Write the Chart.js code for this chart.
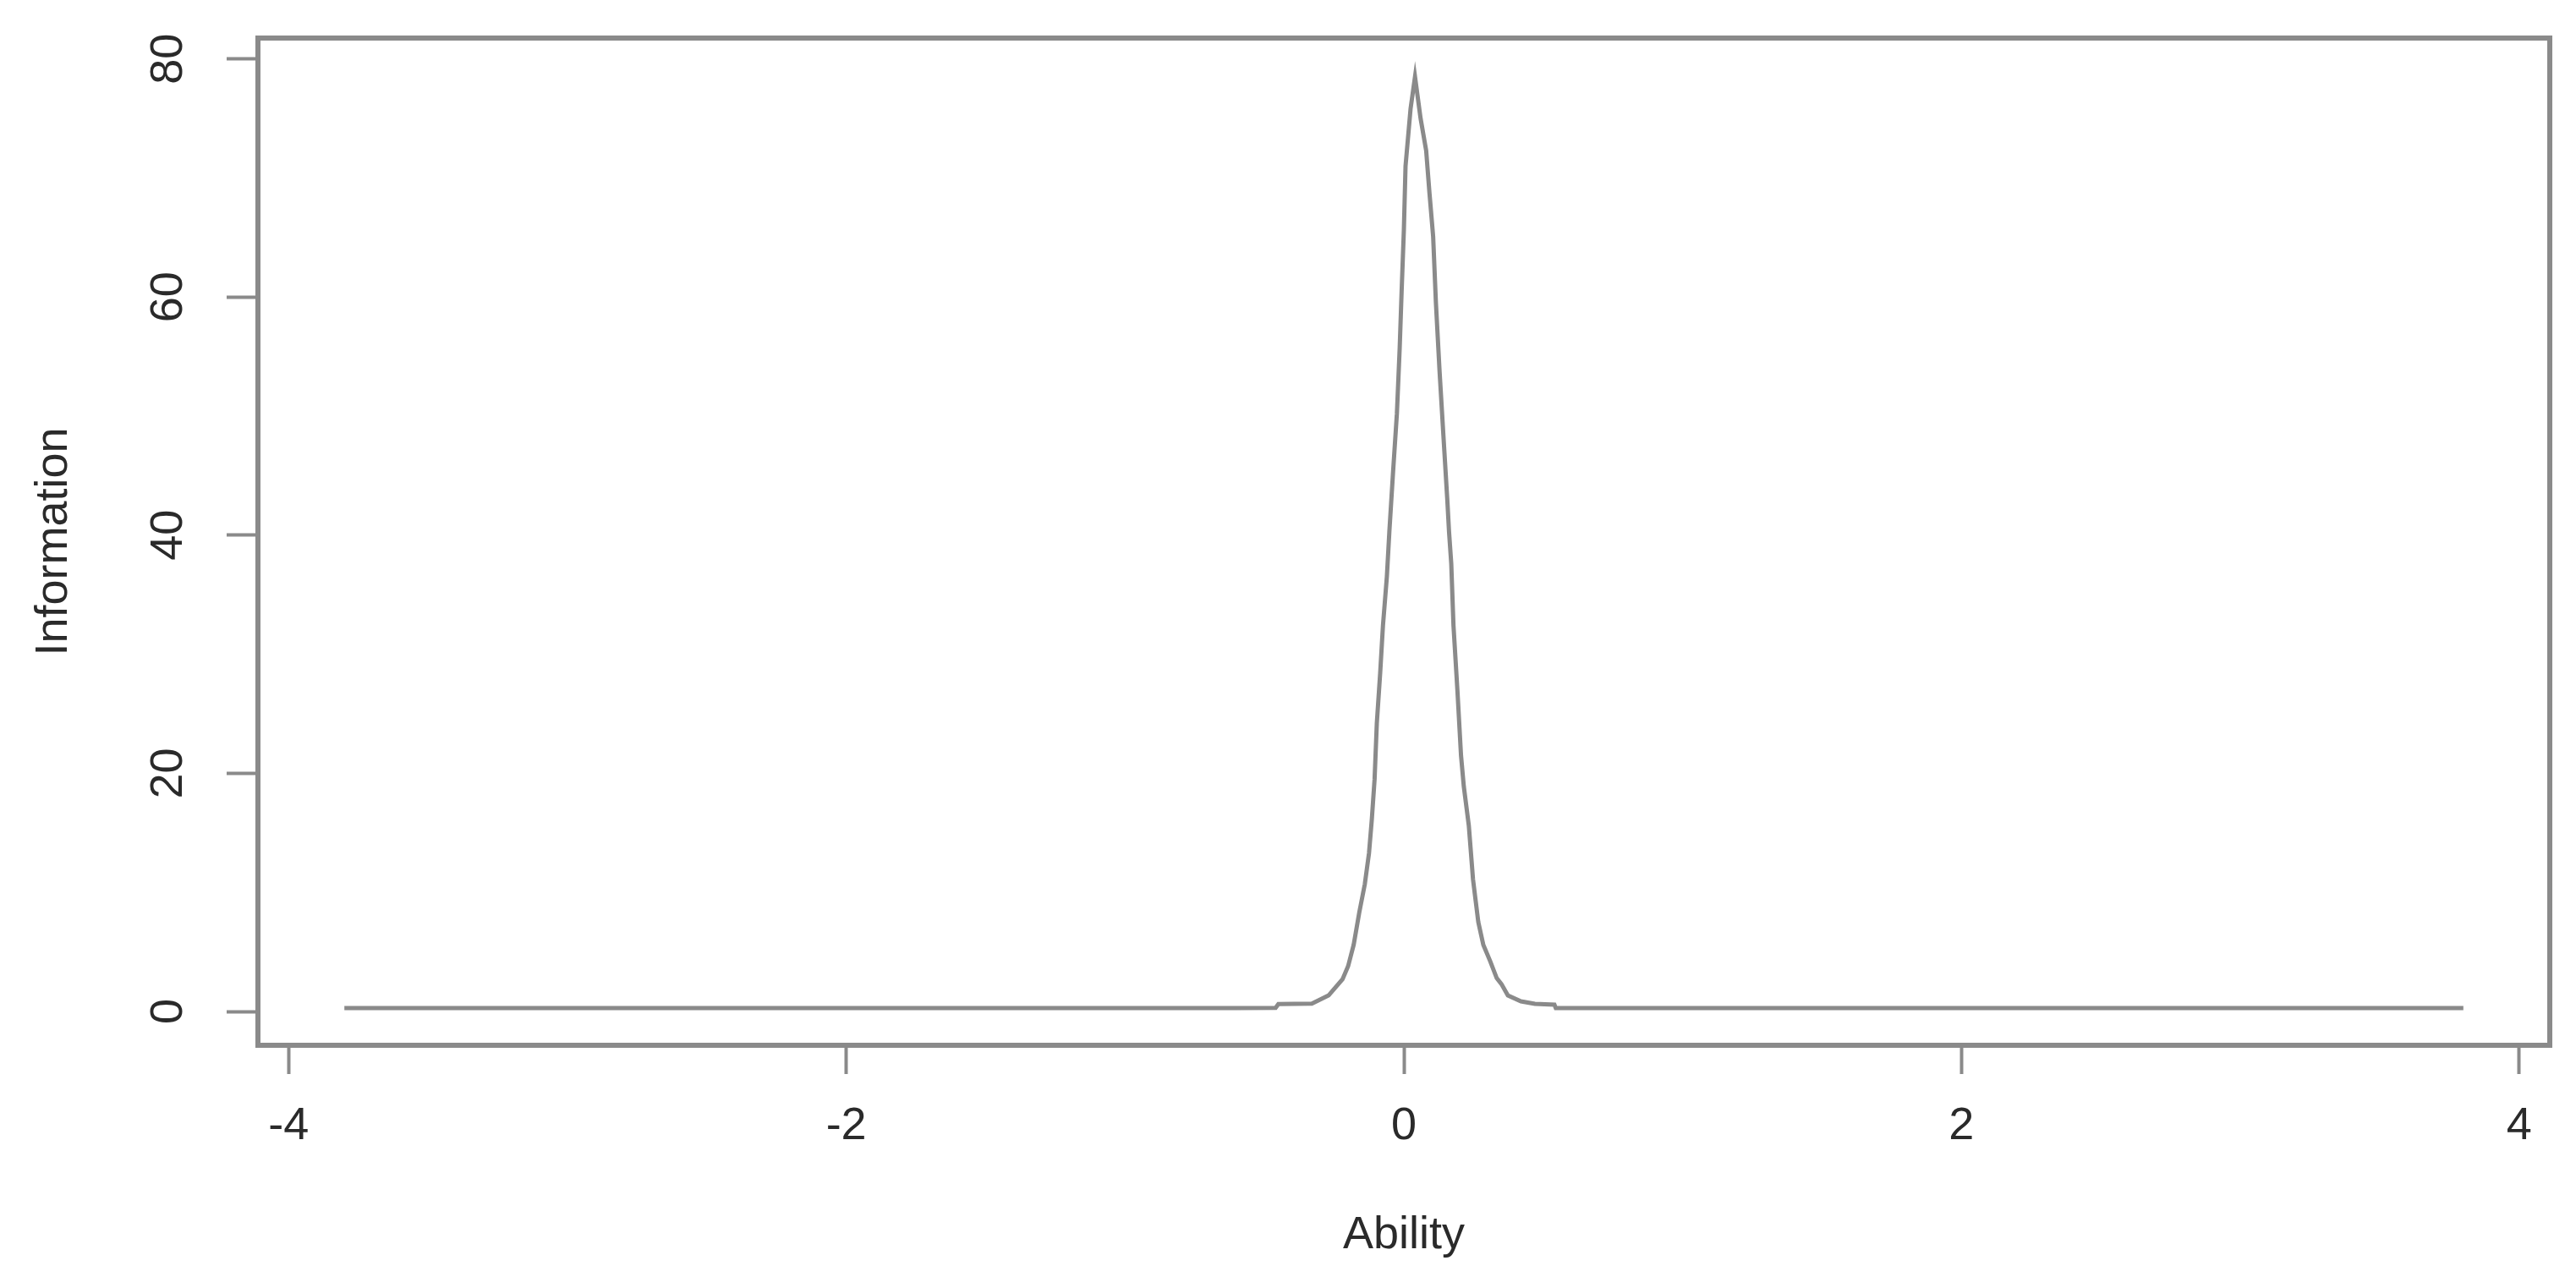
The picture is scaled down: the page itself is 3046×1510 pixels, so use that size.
<!DOCTYPE html>
<html>
<head>
<meta charset="utf-8">
<title>Information vs Ability</title>
<script src="https://cdn.jsdelivr.net/npm/chart.js@4/dist/chart.umd.min.js"></script>
<style>
  html, body { margin: 0; padding: 0; background: #fff; }
  #wrap { width: 3046px; height: 1510px; }
</style>
</head>
<body>
<div id="wrap"><canvas id="infoChart" width="3046" height="1510"></canvas></div>
<script>
// ability (theta) grid and test information
const ability = [
    -3.8, -0.6, -0.46, -0.45, -0.33, -0.27, -0.25, -0.22, -0.2, -0.18,
    -0.16, -0.14, -0.125, -0.115, -0.105, -0.097, -0.085, -0.075, -0.061, -0.052,
    -0.039, -0.025, -0.015, -0.008, 0.0, 0.006, 0.024, 0.04, 0.06, 0.08,
    0.092, 0.105, 0.115, 0.128, 0.142, 0.156, 0.162, 0.17, 0.178, 0.192,
    0.205, 0.215, 0.233, 0.248, 0.267, 0.285, 0.31, 0.333, 0.35, 0.373,
    0.42, 0.47, 0.54, 0.545, 3.8
];
const information = [
    0.28, 0.28, 0.3, 0.62, 0.65, 1.35, 1.9, 2.7, 3.8, 5.6,
    8.3, 10.7, 13.3, 16.1, 19.5, 24.2, 28.4, 32.4, 36.5, 40.3,
    45.2, 50.2, 55.7, 60.5, 65.6, 71.0, 75.8, 78.5, 75.0, 72.3,
    68.7, 65.1, 59.5, 53.8, 48.3, 42.9, 40.3, 37.6, 32.4, 27.0,
    21.5, 18.9, 15.6, 11.1, 7.5, 5.6, 4.2, 2.8, 2.3, 1.35,
    0.85, 0.64, 0.57, 0.28, 0.28
];
const xTicks = [-4, -2, 0, 2, 4];
const yTicks = [0, 20, 40, 60, 80];

const gray = "#8a8a8a";
const textColor = "#2a2a2a";

Chart.defaults.font.family = "'Liberation Sans', Arial, sans-serif";
Chart.defaults.font.size = 54;
Chart.defaults.color = textColor;

// R-style box around the plot region
const frame = {
    id: "frame",
    afterDraw(chart) {
        const { ctx, chartArea: a } = chart;
        ctx.save();
        ctx.strokeStyle = gray;
        ctx.lineWidth = 6;
        ctx.strokeRect(a.left, a.top, a.right - a.left, a.bottom - a.top);
        ctx.restore();
    }
};

// fixed axis sizes, no extra room for end labels
function fixSize(prop, size) {
    return (s) => {
        s[prop] = size;
        s.paddingTop = 0;
        s.paddingBottom = 0;
        s.paddingLeft = 0;
        s.paddingRight = 0;
    };
}

document.addEventListener("DOMContentLoaded", () => {
    const ctx = document.getElementById("infoChart").getContext("2d");

    new Chart(ctx, {
        type: "scatter",
        data: {
            datasets: [
                {
                    label: "Information",
                    data: ability.map((a, i) => ({ x: a, y: information[i] })),
                    showLine: true,
                    borderColor: gray,
                    borderWidth: 5,
                    pointRadius: 0,
                    tension: 0,
                },
            ],
        },
        options: {
            responsive: false,
            animation: false,
            devicePixelRatio: 1,
            layout: {
                autoPadding: false,
                padding: { top: 45, right: 31, bottom: 0, left: 0 },
            },
            plugins: {
                legend: { display: false },
                tooltip: { enabled: false },
            },
            scales: {
                x: {
                    type: "linear",
                    min: -4.11,
                    max: 4.11,
                    afterBuildTicks: (s) => { s.ticks = xTicks.map((v) => ({ value: v })); },
                    afterFit: fixSize("height", 274),
                    grid: {
                        drawOnChartArea: false,
                        drawTicks: true,
                        tickLength: 34,
                        tickWidth: 4,
                        tickColor: gray,
                    },
                    border: { display: true, color: gray, width: 6 },
                    ticks: { padding: 30, color: textColor, maxRotation: 0 },
                    title: {
                        display: true,
                        text: "Ability",
                        color: textColor,
                        padding: { top: 0, bottom: 16 },
                    },
                },
                y: {
                    type: "linear",
                    min: -2.84,
                    max: 81.75,
                    afterBuildTicks: (s) => { s.ticks = yTicks.map((v) => ({ value: v })); },
                    afterFit: fixSize("width", 305),
                    grid: {
                        drawOnChartArea: false,
                        drawTicks: true,
                        tickLength: 37,
                        tickWidth: 4,
                        tickColor: gray,
                    },
                    border: { display: true, color: gray, width: 6 },
                    ticks: {
                        padding: 38,
                        color: textColor,
                        minRotation: 90,
                        maxRotation: 90,
                        crossAlign: "center",
                    },
                    title: {
                        display: true,
                        text: "Information",
                        color: textColor,
                        padding: { top: 32, bottom: 0 },
                    },
                },
            },
        },
        plugins: [frame],
    });
});
</script>
</body>
</html>
